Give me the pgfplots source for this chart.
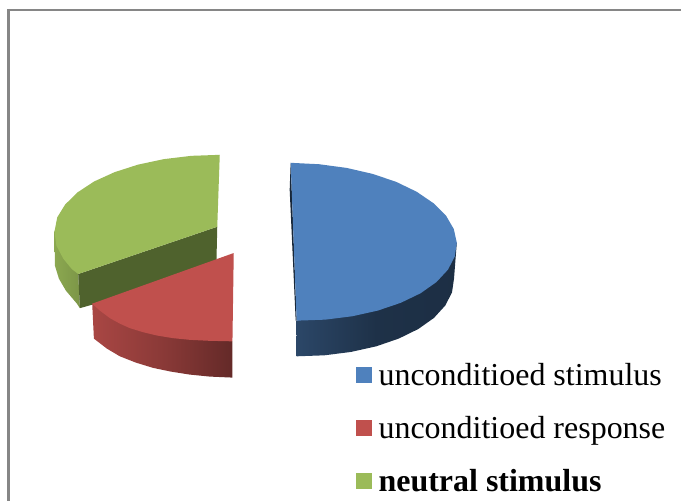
\documentclass[border=0pt]{standalone}
\usepackage{pgfplots}
\pgfplotsset{compat=1.18}
\usepackage{fontspec}
\setmainfont{Liberation Serif}
\definecolor{bluetop}{RGB}{79,129,189}
\definecolor{redtop}{RGB}{192,80,77}
\definecolor{greentop}{RGB}{155,187,89}
\definecolor{greendark}{RGB}{79,98,45}
\definecolor{frameline}{RGB}{134,134,134}
\begin{document}
\begin{tikzpicture}
\begin{axis}[
  scale only axis, width=682pt, height=502pt,
  xmin=0, xmax=682, ymin=0, ymax=502, y dir=reverse,
  hide axis, clip=false,
  legend style={at={(axis cs:356,363.5)}, anchor=north west, draw=none, fill=none,
    font=\fontsize{32}{32}\selectfont, row sep=29.3pt, inner sep=0pt, outer sep=0pt,
    nodes={inner sep=0pt, outer sep=0pt}},
  legend cell align=left,
  legend image code/.code={\fill[#1] (0pt,-8pt) rectangle (16pt,8pt);},
]
% page extent
\addplot[draw=none, forget plot] coordinates {(0,0) (682,502)};
% frame of the chart area
\addplot[frameline, line width=1.5pt, forget plot] coordinates {(8,10) (682,10)};
\addplot[frameline, line width=2.4pt, forget plot] coordinates {(8.7,9) (8.7,502)};

% green slice: rim, cut face, top
\addplot[draw=none, left color=greentop!90!black, right color=greentop!80!black, forget plot] coordinates {
 (54.5,231) (55,266) (59,279) (66,291) (77,304) (80,308.5) (78.3,274.3)} -- cycle;
\addplot[draw=none, fill=greendark, forget plot] coordinates {
 (78.3,274.3) (80,308.5) (92.3,305) (216.7,261) (217.5,227)} -- cycle;
\addplot[draw=none, fill=greentop, forget plot] coordinates {
 (220,155) (191.6,156) (164.1,159.3) (138.2,164.8) (114.6,172.4) (94.2,181.7) (77.6,192.6) (65.2,204.8) (57.3,217.6) (54.5,232)
 (56.5,246) (63.4,259) (72,269.5) (78.3,274.3) (217.5,227)} -- cycle;

% red slice: rim and top
\addplot[draw=none, left color=redtop!88!black, right color=redtop!52!black, middle color=redtop!72!black, forget plot] coordinates {
 (92.3,304) (94,339) (107,349) (120,356.7) (136,363) (153.3,368.3) (171,372) (190,375) (210,377) (232.7,378) (232.7,341.7)} -- cycle;
\addplot[draw=none, fill=redtop, forget plot] coordinates {
 (234,253.3) (92.3,304) (100,311) (110,318.5) (120,324) (130,328.5) (143,332.5) (156.7,335.8) (173,338.5) (190,340.2) (210,341.2) (232.7,341.7)} -- cycle;

% blue slice: rim, thin cut face, top
\addplot[draw=none, left color=bluetop!55!black, right color=bluetop!36!black, middle color=bluetop!38!black, forget plot] coordinates {
 (296.7,321) (297,356.7) (324.8,355.7) (351.5,352.3) (376.7,346.7) (399.3,338.9) (418.7,329.4) (434.4,318.3) (445.8,305.8) (452.5,292.7) (454.5,279) (457.3,243)
 (400,290) (350,310)} -- cycle;
\addplot[draw=none, fill=bluetop!30!black, forget plot] coordinates {
 (291,162.7) (290,190) (293,255) (296,321) (297,321)} -- cycle;
\addplot[draw=none, fill=bluetop, forget plot] coordinates {
 (291,163) (319.4,164.4) (347.1,168.1) (373.1,174.1) (396.7,182.1) (417.2,192) (433.9,203.4) (446.5,215.9) (454.3,229.3) (457.3,243)
 (455.3,256.7) (448.5,269.9) (436.9,282.4) (421,293.6) (401.3,303.1) (378.3,310.9) (352.7,316.6) (325.4,320) (297,321)} -- cycle;

% legend keys
\addlegendimage{fill=bluetop, draw=none}
\addlegendentry{\hspace{7pt}unconditioed stimulus}
\addlegendimage{fill=redtop, draw=none}
\addlegendentry{\hspace{7pt}unconditioed response}
\addlegendimage{fill=greentop, draw=none}
\addlegendentry{\hspace{7pt}\textbf{neutral stimulus}}
\end{axis}
\end{tikzpicture}
\end{document}
